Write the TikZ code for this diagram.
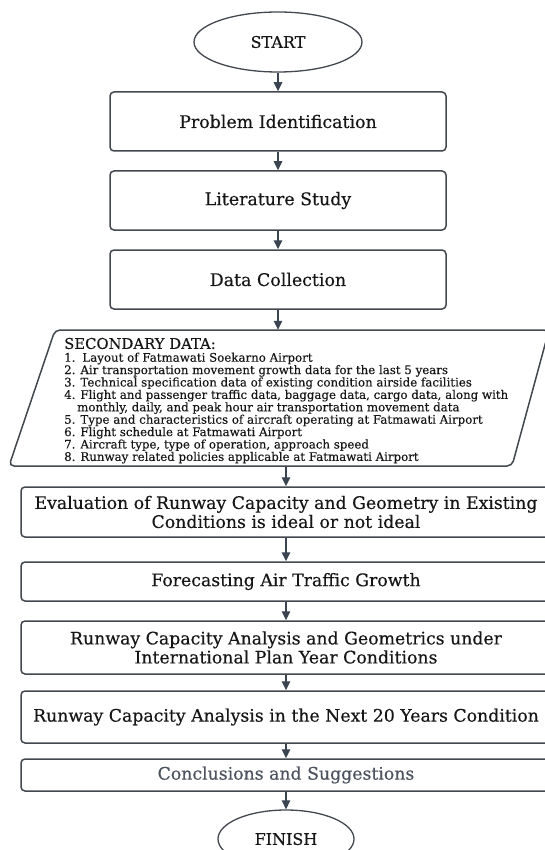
\documentclass[tikz,border=0pt]{standalone}
\usepackage{fontspec}
\setmainfont{DejaVu Serif}
\newfontfamily\heavyserif[FakeBold=0.35]{DejaVu Serif}
\newfontfamily\listserif[FakeBold=0.2]{DejaVu Serif}
\usetikzlibrary{arrows.meta,shapes.geometric}
\definecolor{edgec}{HTML}{43474E}
\definecolor{arrowc}{HTML}{3B4451}
\definecolor{txtc}{HTML}{161616}
\definecolor{softtxt}{HTML}{4C535E}
\begin{document}
\begin{tikzpicture}[x=1pt,y=-1pt,
  box/.style={draw=edgec, line width=1.5pt, rounded corners=4pt, align=center,
    text=txtc, inner sep=0pt, font=\heavyserif\fontsize{17.4}{19}\selectfont},
  lowbox/.style={box, font=\heavyserif\fontsize{17.3}{19}\selectfont},
  term/.style={draw=edgec, line width=1.3pt, ellipse, inner sep=0pt, text=txtc,
    font=\heavyserif\fontsize{16}{18}\selectfont},
  flow/.style={draw=arrowc, line width=1.1pt, -{Triangle[length=9pt,width=8.5pt]}},
  listtext/.style={text=txtc, inner sep=0pt, align=left,
    font=\listserif\fontsize{11.8}{12.4}\selectfont},
]
\useasboundingbox (0,0) rectangle (544,850);
\fill[white] (0,0) rectangle (544,850);

% terminals
\node[term, minimum width=168pt, minimum height=60pt] (start) at (278,42) {START};

% upper boxes
\node[box, minimum width=336pt, minimum height=59pt] (b1) at (278,121.5) {Problem Identification};
\node[box, minimum width=336pt, minimum height=59pt] (b2) at (278,200.5) {Literature Study};
\node[box, minimum width=336pt, minimum height=59pt] (b3) at (278,279.5) {Data Collection};

% secondary data parallelogram
\node[minimum width=538pt, minimum height=136pt, inner sep=0pt] (sec) at (278,398) {};
\draw[draw=edgec, line width=1.5pt, rounded corners=5pt]
  (55,330) -- (549,330) -- (512,466) -- (9,466) -- cycle;
\node[anchor=west, text=txtc, inner sep=0pt, font=\listserif\fontsize{14.8}{16}\selectfont]
  (sechead) at (64,343.5) {SECONDARY DATA:};
\node[listtext, anchor=north west] (seclist) at (64,352.5) {%
1.\, Layout of Fatmawati Soekarno Airport\\
2. Air transportation movement growth data for the last 5 years\\
3. Technical specification data of existing condition airside facilities\\
4. Flight and passenger traffic data, baggage data, cargo data, along with\\
\hspace*{1.1em}monthly, daily, and peak hour air transportation movement data\\
5. Type and characteristics of aircraft operating at Fatmawati Airport\\
6. Flight schedule at Fatmawati Airport\\
7. Aircraft type, type of operation, approach speed\\
8. Runway related policies applicable at Fatmawati Airport};

% lower boxes
\node[lowbox, minimum width=530pt, minimum height=50pt] (b4) at (286,512)
  {Evaluation of Runway Capacity and Geometry in Existing\\ Conditions is ideal or not ideal};
\node[lowbox, minimum width=530pt, minimum height=39pt] (b5) at (286,581.5)
  {Forecasting Air Traffic Growth};
\node[lowbox, minimum width=530pt, minimum height=53pt] (b6) at (286,647.5)
  {Runway Capacity Analysis and Geometrics under\\ International Plan Year Conditions};
\node[lowbox, minimum width=530pt, minimum height=52pt] (b7) at (286,717)
  {Runway Capacity Analysis in the Next 20 Years Condition};
\node[lowbox, minimum width=530pt, minimum height=32pt, text=softtxt] (b8) at (286,775)
  {Conclusions and Suggestions};

\node[term, minimum width=136pt, minimum height=58pt] (finish) at (286,839) {FINISH};

% connectors
\draw[flow] (start.south) -- (b1.north);
\draw[flow] (b1.south) -- (b2.north);
\draw[flow] (b2.south) -- (b3.north);
\draw[flow] (b3.south) -- (sec.north);
\draw[flow] (sec.south -| b4.north) -- (b4.north);
\draw[flow] (b4.south) -- (b5.north);
\draw[flow] (b5.south) -- (b6.north);
\draw[flow] (b6.south) -- (b7.north);
\draw[flow] (b7.south) -- (b8.north);
\draw[flow] (b8.south) -- (finish.north);
\end{tikzpicture}
\end{document}
